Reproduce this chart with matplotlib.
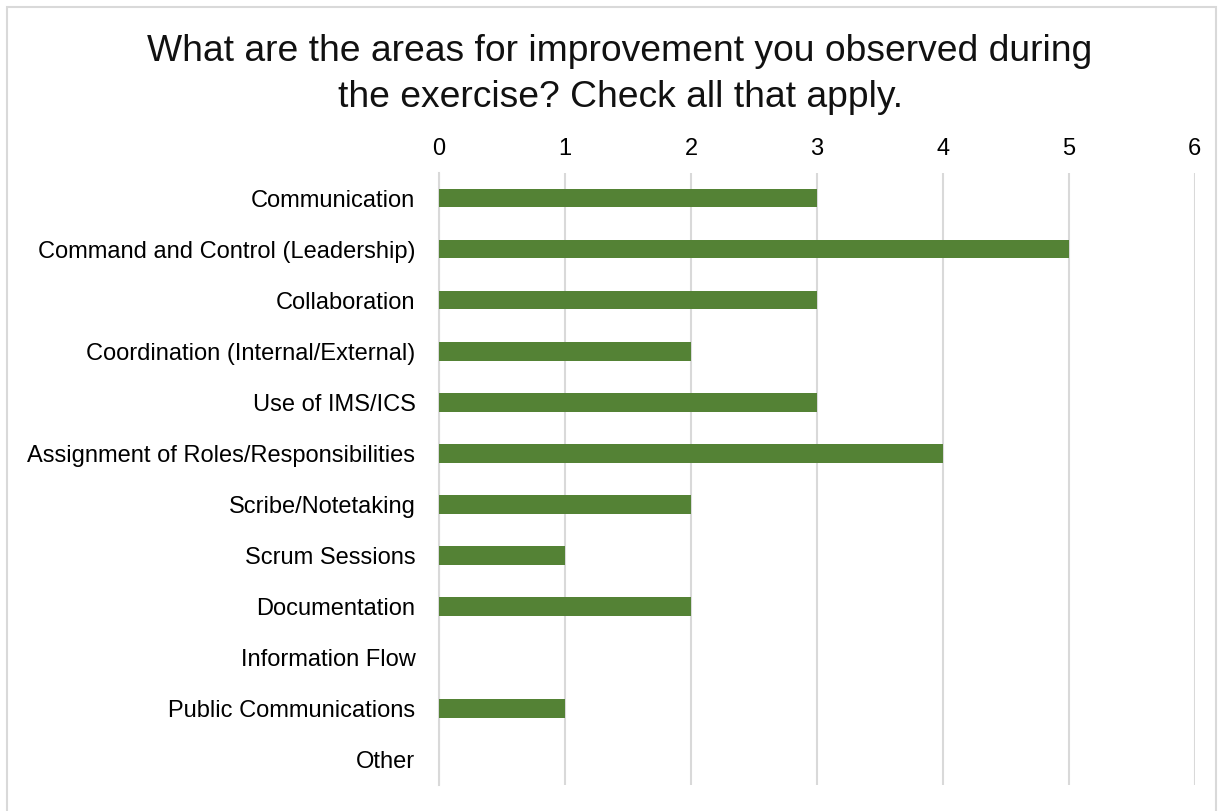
import matplotlib
matplotlib.use("Agg")
import matplotlib.pyplot as plt
from matplotlib.patches import Rectangle
import numpy as np

plt.rcParams["font.family"] = ["Liberation Sans", "DejaVu Sans"]

categories = ["Communication", "Command and Control (Leadership)", "Collaboration",
              "Coordination (Internal/External)", "Use of IMS/ICS",
              "Assignment of Roles/Responsibilities", "Scribe/Notetaking",
              "Scrum Sessions", "Documentation", "Information Flow",
              "Public Communications", "Other"]
counts = [3, 5, 3, 2, 3, 4, 2, 1, 2, 0, 1, 0]

BAR = "#548235"
GRID = "#D9D9D9"

fig = plt.figure(figsize=(12.23, 8.11), dpi=100)
ax = fig.add_axes([0.359, 0.032, 0.618, 0.755])

y = np.arange(len(categories))
ax.barh(y, counts, height=0.36, color=BAR, zorder=3)

ax.set_xlim(0, 6)
ax.set_ylim(len(categories) - 0.5, -0.5)
ax.set_xticks(range(0, 7))
ax.set_yticks(y)
ax.set_yticklabels(categories, fontsize=17)
ax.xaxis.tick_top()
ax.tick_params(axis="x", labelsize=17, length=0, pad=9)
ax.tick_params(axis="y", length=0, pad=17)
ax.grid(axis="x", color=GRID, linewidth=1.5, zorder=0)
for sp in ("top", "right", "bottom"):
    ax.spines[sp].set_visible(False)
ax.spines["left"].set_color(GRID)
ax.spines["left"].set_linewidth(1.5)

fig.text(0.507, 0.908, "What are the areas for improvement you observed during\nthe exercise? Check all that apply.",
         ha="center", va="center", fontsize=26.8, linespacing=1.38, color="#111111")

fig.patches.append(Rectangle((7 / 1223, -0.1), 1 - 14 / 1223, 1.1 - 7 / 811,
                             transform=fig.transFigure, fill=False,
                             edgecolor=GRID, linewidth=1.5))

fig.savefig("out.png", dpi=100)
